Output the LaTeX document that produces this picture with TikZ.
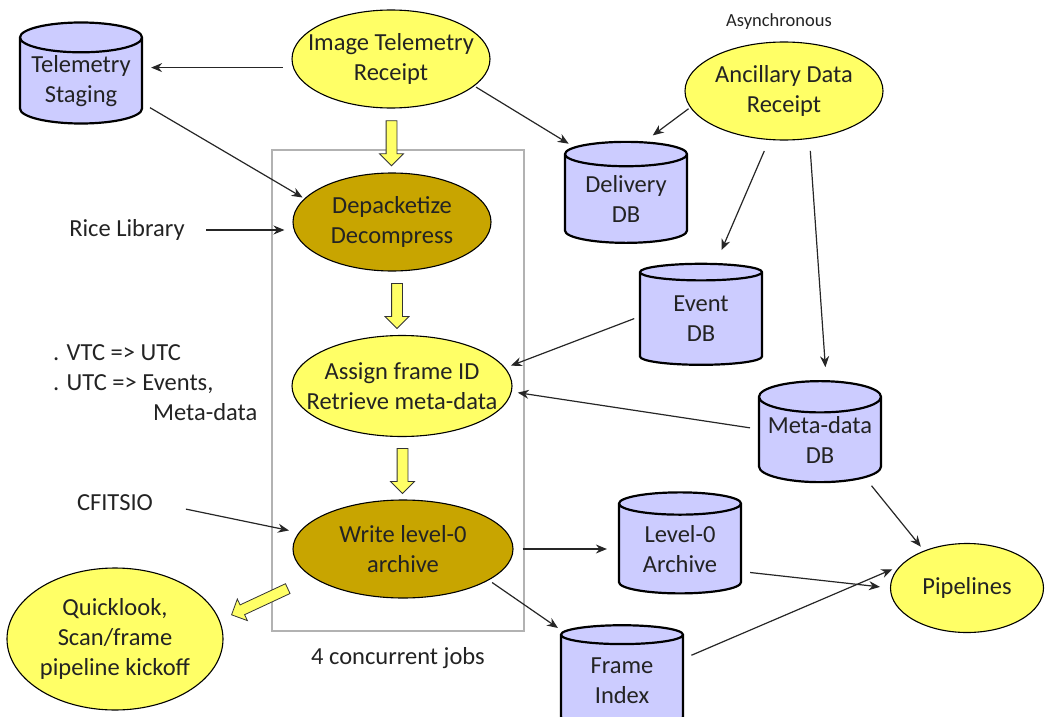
\documentclass[tikz,border=0pt]{standalone}
\usepackage{fontspec}
\setmainfont{Carlito}
\usetikzlibrary{positioning, arrows.meta, calc, shapes.geometric, shapes.arrows}
\definecolor{procyellow}{RGB}{255,255,102}
\definecolor{procgold}{RGB}{200,165,0}
\definecolor{dblilac}{RGB}{204,204,255}
\definecolor{inkgray}{RGB}{35,35,35}

\begin{document}
\begin{tikzpicture}[
  x=1pt, y=-1pt,
  every node/.style={font=\fontsize{24.5}{30}\selectfont, text=inkgray},
  proc/.style={ellipse, draw, line width=1.1pt, fill=procyellow, inner xsep=-40pt, inner ysep=0pt,
               align=center, minimum width=198pt, minimum height=98pt},
  procdark/.style={proc, fill=procgold},
  store/.style={cylinder, shape border rotate=90, aspect=0.3, draw, line width=2.2pt,
                fill=dblilac, align=center, minimum width=122pt, minimum height=101pt, inner sep=0pt},
  arrow/.style={-{Stealth[length=11pt, width=9pt]}, line width=1.2pt, black!85},
  fatarrow/.style={single arrow, draw=black!80, line width=0.8pt, fill=procyellow, inner sep=5pt,
                   minimum height=45pt, single arrow head extend=6.5pt, single arrow tip angle=90},
  jobbox/.style={draw=black!30, line width=1.5pt, minimum width=252pt, minimum height=481pt}
]
  \useasboundingbox (0,0) rectangle (1047,717);

  % the four concurrent jobs
  \node[jobbox] (jobframe) at (398,390.5) {};
  \node (jobs) at (398,658) {4 concurrent jobs};

  \node[store] (stage) at (81,81) {Telemetry\\Staging};
  \node[proc] (imgrx) at (391,59) {Image Telemetry\\Receipt};
  \node[font=\fontsize{18.5}{22}\selectfont] (async) at (779,22) {Asynchronous};
  \node[proc] (ancrx) at (784,91) {Ancillary Data\\Receipt};
  \node[store] (deliv) at (626,199) {Delivery\\DB};
  \node[procdark] (depack) at (392,222) {Depacketize\\Decompress};
  \node (rice) at (127,230) {Rice Library};
  \node[store] (event) at (701,319) {Event\\DB};
  \node[proc, minimum width=220pt, minimum height=101pt] (assign) at (402,386) {Assign frame ID\\Retrieve meta-data};
  \node[align=left, anchor=north west, inner sep=0pt] (conv) at (53,344)
    {. VTC => UTC\\. UTC => Events,\\\hspace*{100pt}Meta-data};
  \node[store] (meta) at (820,440) {Meta-data\\DB};
  \node (cfits) at (115,503) {CFITSIO};
  \node[procdark, minimum width=220pt] (write) at (403,549) {Write level-0\\archive};
  \node[store] (lzero) at (680,549) {Level-0\\Archive};
  \node[store] (frame) at (622,681) {Frame\\Index};
  \node[proc, minimum width=153pt, minimum height=89pt] (pipe) at (967,588) {Pipelines};
  \node[proc, minimum width=216pt, minimum height=142pt] (quick) at (115,639) {Quicklook,\\Scan/frame\\pipeline kickoff};

  % main flow
  \node[fatarrow, rotate=-90] (push1) at ($(imgrx.south)!0.5!(depack.north)$) {};
  \node[fatarrow, rotate=-90] (push2) at ($(depack.south)!0.5!(assign.north)$) {};
  \node[fatarrow, rotate=-90] (push3) at ($(assign.south)!0.5!(write.north)$) {};
  \node[fatarrow, rotate=205, minimum height=62pt] (push4) at ($(write.205)!0.58!(quick.15)$) {};

  \draw[arrow, shorten <=10pt, shorten >=8pt] (imgrx.185) -- (imgrx.185 -| stage.east);
  \draw[arrow, shorten <=2pt, shorten >=6pt] (imgrx.-18) -- (deliv.135);
  \draw[arrow, shorten <=8pt, shorten >=2pt] (stage.-20) -- (depack.165);
  \draw[arrow, shorten <=18pt, shorten >=8pt] (rice.east) -- (rice.east -| depack.west);
  \draw[arrow, shorten <=2pt, shorten >=10pt] (ancrx.190) -- (deliv.72);
  \draw[arrow, shorten <=12pt, shorten >=14pt] (ancrx.-107) -- (event.75);
  \draw[arrow, shorten <=12pt, shorten >=13pt] (ancrx.-62) -- (meta.84);
  \draw[arrow, shorten <=5pt, shorten >=6pt] (event.178) -- (assign.10);
  \draw[arrow, shorten <=8pt, shorten >=6pt] (meta.170) -- (assign.-3);
  \draw[arrow, shorten <=10pt, shorten >=5pt] (meta.-40) -- (pipe.139);
  \draw[arrow, shorten <=30pt, shorten >=10pt] (cfits.east) -- (write.171);
  \draw[arrow, shorten <=9pt, shorten >=11pt] (write.east) -- (write.east -| lzero.west);
  \draw[arrow, shorten <=4pt, shorten >=6pt] (write.-20) -- (frame.140);
  \draw[arrow, shorten <=8pt, shorten >=10pt] (lzero.-20) -- (pipe.180);
  \draw[arrow, shorten <=8pt, shorten >=8pt] (frame.20) -- (pipe.162);
\end{tikzpicture}
\end{document}
